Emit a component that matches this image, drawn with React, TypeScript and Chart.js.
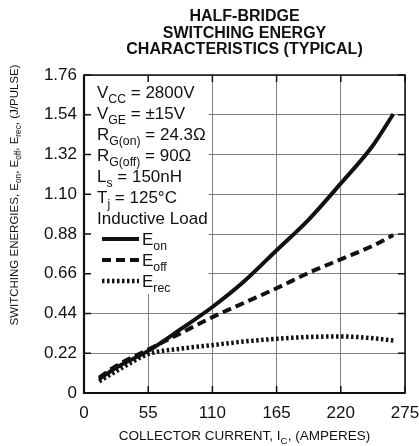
import React, { useEffect, useRef } from "react";
import { Chart, registerables } from "chart.js";

Chart.register(...registerables);

// ---- data ----
const currents = [13, 27.5, 55, 82.5, 110, 137.5, 165, 192.5, 220, 247.5, 265];
const eOn = [0.077, 0.14, 0.233, 0.352, 0.476, 0.62, 0.79, 0.96, 1.16, 1.37, 1.544];
const eOff = [0.085, 0.15, 0.24, 0.33, 0.42, 0.5, 0.58, 0.665, 0.74, 0.815, 0.875];
const eRec = [0.065, 0.12, 0.215, 0.245, 0.265, 0.285, 0.3, 0.31, 0.313, 0.303, 0.29];

const xTickValues = [0, 55, 110, 165, 220, 275];
const yTickValues = [0, 0.22, 0.44, 0.66, 0.88, 1.1, 1.32, 1.54, 1.76];

const titleLines = ["HALF-BRIDGE", "SWITCHING ENERGY", "CHARACTERISTICS (TYPICAL)"];

type Seg = [string, boolean];
const conditionLines: Seg[][] = [
  [["V", false], ["CC", true], [" = 2800V", false]],
  [["V", false], ["GE", true], [" = \u00b115V", false]],
  [["R", false], ["G(on)", true], [" = 24.3\u03a9", false]],
  [["R", false], ["G(off)", true], [" = 90\u03a9", false]],
  [["L", false], ["s", true], [" = 150nH", false]],
  [["T", false], ["j", true], [" = 125\u00b0C", false]],
  [["Inductive Load", false]],
];
const legendLabels: Seg[][] = [
  [["E", false], ["on", true]],
  [["E", false], ["off", true]],
  [["E", false], ["rec", true]],
];
const xTitle: Seg[] = [["COLLECTOR CURRENT, I", false], ["C", true], [", (AMPERES)", false]];
const yTitle: Seg[] = [
  ["SWITCHING ENERGIES, E", false], ["on", true], [", E", false], ["off", true],
  [", E", false], ["rec", true], [", (J/PULSE)", false],
];

const FONT = "'Liberation Sans', Arial, sans-serif";
const INK = "#111";

function richWidth(ctx: CanvasRenderingContext2D, segs: Seg[], size: number, weight = "") {
  let w = 0;
  for (const [t, sub] of segs) {
    ctx.font = `${weight}${sub ? size * 0.72 : size}px ${FONT}`;
    w += ctx.measureText(t).width;
  }
  return w;
}
function drawRich(ctx: CanvasRenderingContext2D, x: number, y: number, segs: Seg[], size: number) {
  let cx = x;
  ctx.textAlign = "left";
  ctx.textBaseline = "alphabetic";
  for (const [t, sub] of segs) {
    ctx.font = `${sub ? size * 0.72 : size}px ${FONT}`;
    ctx.fillText(t, cx, sub ? y + size * 0.28 : y);
    cx += ctx.measureText(t).width;
  }
  return cx;
}

const decorPlugin = {
  id: "decor",
  beforeDatasetsDraw(chart: any) {
    const ctx: CanvasRenderingContext2D = chart.ctx;
    const a = chart.chartArea;
    const size = 17;
    const tx = a.left + 13;
    const base0 = a.top + 23;
    const step = 21;
    ctx.save();
    // white box behind the conditions text
    let maxW = 0;
    for (const l of conditionLines) maxW = Math.max(maxW, richWidth(ctx, l, size));
    const boxBottom = base0 + step * (conditionLines.length + legendLabels.length - 1) + 6;
    ctx.fillStyle = "#fff";
    ctx.fillRect(a.left + 1, a.top + 1, tx + maxW - a.left, boxBottom - a.top);
    ctx.fillStyle = INK;
    conditionLines.forEach((l, i) => drawRich(ctx, tx, base0 + step * i, l, size));
    // legend
    chart.data.datasets.forEach((ds: any, i: number) => {
      const by = base0 + step * (conditionLines.length + i);
      const ly = by - 6;
      ctx.beginPath();
      ctx.strokeStyle = ds.borderColor;
      ctx.lineWidth = ds.borderWidth;
      ctx.setLineDash(ds.borderDash || []);
      ctx.moveTo(tx + 5, ly);
      ctx.lineTo(tx + 42, ly);
      ctx.stroke();
      ctx.setLineDash([]);
      ctx.fillStyle = INK;
      drawRich(ctx, tx + 45, by, legendLabels[i], size);
    });
    ctx.restore();
  },
  afterDraw(chart: any) {
    const ctx: CanvasRenderingContext2D = chart.ctx;
    const a = chart.chartArea;
    const xs = chart.scales.x;
    const ys = chart.scales.y;
    ctx.save();
    // frame
    ctx.strokeStyle = INK;
    ctx.lineWidth = 1.5;
    ctx.strokeRect(a.left, a.top, a.right - a.left, a.bottom - a.top);
    ctx.lineWidth = 2.2;
    ctx.beginPath();
    ctx.moveTo(a.left, a.top);
    ctx.lineTo(a.left, a.bottom);
    ctx.lineTo(a.right, a.bottom);
    ctx.stroke();
    // inward ticks
    ctx.lineWidth = 1.5;
    const tl = 7;
    ctx.beginPath();
    for (const v of xTickValues) {
      const px = xs.getPixelForValue(v);
      ctx.moveTo(px, a.bottom);
      ctx.lineTo(px, a.bottom - tl);
      ctx.moveTo(px, a.top);
      ctx.lineTo(px, a.top + tl);
    }
    for (const v of yTickValues) {
      const py = ys.getPixelForValue(v);
      ctx.moveTo(a.left, py);
      ctx.lineTo(a.left + tl, py);
      ctx.moveTo(a.right, py);
      ctx.lineTo(a.right - tl, py);
    }
    ctx.stroke();
    // title
    ctx.fillStyle = INK;
    ctx.font = `bold 16px ${FONT}`;
    ctx.textAlign = "center";
    ctx.textBaseline = "alphabetic";
    const cx = (a.left + a.right) / 2;
    titleLines.forEach((t, i) => ctx.fillText(t, cx, 21 + i * 16.5));
    // x title
    const xsz = 13.5;
    const xw = richWidth(ctx, xTitle, xsz);
    drawRich(ctx, cx - xw / 2, 440, xTitle, xsz);
    // y title
    const ysz = 11.5;
    const yw = richWidth(ctx, yTitle, ysz);
    ctx.translate(18, 195);
    ctx.rotate(-Math.PI / 2);
    drawRich(ctx, -yw / 2, 0, yTitle, ysz);
    ctx.restore();
  },
};

export default function App() {
  const ref = useRef<HTMLCanvasElement | null>(null);
  useEffect(() => {
    if (!ref.current) return;
    const mk = (x: number[], y: number[]) => x.map((v, i) => ({ x: v, y: y[i] }));
    const common = {
      borderColor: INK,
      backgroundColor: INK,
      pointRadius: 0,
      fill: false,
      cubicInterpolationMode: "monotone" as const,
      borderCapStyle: "butt" as const,
    };
    const chart = new Chart(ref.current, {
      type: "line",
      data: {
        datasets: [
          { ...common, label: "Eon", data: mk(currents, eOn), borderWidth: 4 },
          { ...common, label: "Eoff", data: mk(currents, eOff), borderWidth: 4, borderDash: [9, 5] },
          { ...common, label: "Erec", data: mk(currents, eRec), borderWidth: 4.5, borderDash: [2.5, 2.5] },
        ],
      },
      options: {
        animation: false,
        responsive: true,
        maintainAspectRatio: false,
        layout: { padding: { left: 0, right: 14, top: 75, bottom: 0 } },
        plugins: { legend: { display: false }, tooltip: { enabled: false }, title: { display: false } },
        scales: {
          x: {
            type: "linear",
            min: 0,
            max: 275,
            afterBuildTicks: (s: any) => { s.ticks = xTickValues.map((v) => ({ value: v })); },
            afterFit: (s: any) => { s.height = 53; s.paddingLeft = 0; s.paddingRight = 0; },
            grid: { color: "#808080", lineWidth: 1, drawTicks: false },
            border: { display: false },
            ticks: { color: INK, font: { family: FONT, size: 17 }, padding: 10, maxRotation: 0, autoSkip: false },
          },
          y: {
            type: "linear",
            min: 0,
            max: 1.76,
            afterBuildTicks: (s: any) => { s.ticks = yTickValues.map((v) => ({ value: v })); },
            afterFit: (s: any) => { s.width = 84; s.paddingTop = 0; s.paddingBottom = 0; },
            grid: { color: "#808080", lineWidth: 1, drawTicks: false },
            border: { display: false },
            ticks: {
              color: INK,
              font: { family: FONT, size: 17 },
              padding: 7,
              autoSkip: false,
              callback: (v: any) => (Number(v) === 0 ? "0" : Number(v).toFixed(2)),
            },
          },
        },
      },
      plugins: [decorPlugin],
    });
    return () => chart.destroy();
  }, []);
  return (
    <div style={{ position: "fixed", left: 0, top: 0, width: 419, height: 446, background: "#fff" }}>
      <canvas ref={ref} />
    </div>
  );
}
